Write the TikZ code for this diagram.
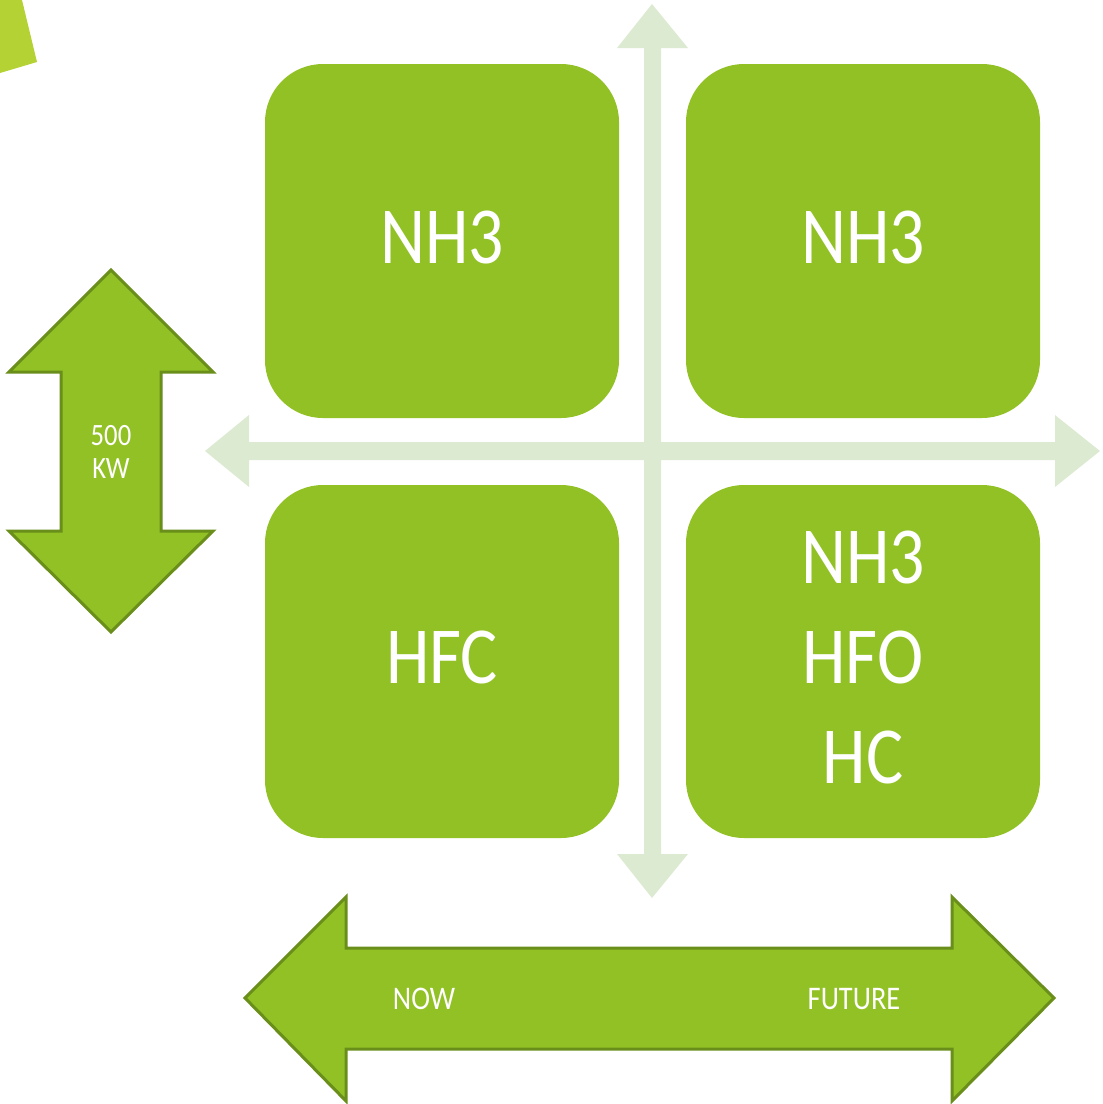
\documentclass[tikz,border=0pt]{standalone}
\usepackage{fontspec}
\setmainfont[FakeStretch=0.86]{Carlito}
\definecolor{boxgreen}{RGB}{146,193,38}
\definecolor{darkgreen}{RGB}{105,142,26}
\definecolor{pale}{RGB}{220,234,210}
\definecolor{lime}{RGB}{180,210,52}
\tikzset{
  quad/.style={fill=boxgreen, rounded corners=58pt},
  bigtxt/.style={text=white, font=\fontsize{81}{100}\selectfont, align=center},
  smalltxt/.style={text=white, font=\fontsize{33}{33}\selectfont, align=center},
  dbl/.style={fill=boxgreen, draw=darkgreen, line width=3pt, line join=miter},
  axis/.style={fill=pale}
}
\begin{document}
\begin{tikzpicture}[x=1pt,y=-1pt]
\useasboundingbox (0,0) rectangle (1103,1104);
% corner fragment
\fill[lime] (0,0) -- (22,0) -- (37,62) -- (0,73) -- cycle;
% quadrant boxes
\fill[quad] (265,64) rectangle (619,418);
\fill[quad] (686,64) rectangle (1040,418);
\fill[quad] (265,485) rectangle (619,838);
\fill[quad] (686,485) rectangle (1040,838);
% cross axes
\fill[axis] (652,4) -- (688,48) -- (661,48) -- (661,442) -- (1055,442) -- (1055,415) -- (1100,451)
  -- (1055,487) -- (1055,460) -- (661,460) -- (661,854) -- (688,854) -- (652,898) -- (617,854)
  -- (644,854) -- (644,460) -- (249,460) -- (249,487) -- (205,451) -- (249,415) -- (249,442)
  -- (644,442) -- (644,48) -- (617,48) -- cycle;
% vertical double arrow
\draw[dbl] (111,270) -- (213,372) -- (161,372) -- (161,531) -- (213,531) -- (111,632)
  -- (9,531) -- (61,531) -- (61,372) -- (9,372) -- cycle;
% horizontal double arrow
\draw[dbl] (245,998) -- (346,897) -- (346,948) -- (952,948) -- (952,897) -- (1054,998)
  -- (952,1101) -- (952,1049) -- (346,1049) -- (346,1101) -- cycle;
% texts
\node[bigtxt] (tl) at (442,237) {NH3};
\node[bigtxt] (tr) at (863,237) {NH3};
\node[bigtxt] (bl) at (442,657) {HFC};
\node[bigtxt] (br) at (863,657) {NH3\\HFO\\HC};
\node[smalltxt, font=\fontsize{31}{33}\selectfont] (kw) at (111,452) {500\\KW};
\node[smalltxt] (now) at (424,999) {NOW};
\node[smalltxt] (fut) at (854,999) {FUTURE};
\end{tikzpicture}
\end{document}
